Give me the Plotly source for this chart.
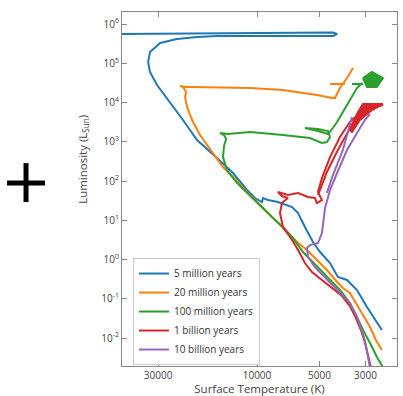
import numpy as np
import plotly.graph_objects as go

# ---- data (log10 of temperature in K and luminosity in L_sun) ----
labels = ["5 million years", "20 million years", "100 million years", "1 billion years", "10 billion years"]
colors = ["#1f77b4", "#ff7f0e", "#2ca02c", "#d62728", "#9467bd"]

blue_logT = [3.398, 3.431, 3.470, 3.518, 3.566, 3.610, 3.648, 3.696, 3.730, 3.769, 3.802, 3.831, 3.899, 3.947,
             3.971, 3.976, 4.010, 4.048, 4.116, 4.193, 4.289, 4.357, 4.419, 4.482, 4.516, 4.525, 4.516, 4.467,
             4.386, 4.289, 4.193, 3.986, 3.793, 3.634, 3.614, 3.634, 3.986, 4.275, 4.651, 4.708]
blue_logL = [-1.796, -1.541, -1.210, -0.777, -0.522, -0.446, -0.089, 0.191, 0.446, 0.828, 1.185, 1.338, 1.465, 1.516,
             1.567, 1.465, 1.567, 1.771, 2.204, 2.586, 3.045, 3.554, 3.987, 4.446, 4.777, 5.032, 5.287, 5.516,
             5.618, 5.669, 5.694, 5.694, 5.694, 5.694, 5.745, 5.783, 5.771, 5.758, 5.745, 5.745]

orange_logT = [3.398, 3.427, 3.455, 3.504, 3.552, 3.586, 3.614, 3.663, 3.711, 3.759, 3.802, 3.851, 3.928, 4.010,
               4.048, 4.116, 4.164, 4.275, 4.313, 4.337, 4.347, 4.342, 4.357, 4.371, 4.342, 4.313, 4.034, 3.875,
               3.711, 3.639, 3.624, 3.600, 3.566, 3.537, None, 3.648, 3.576]
orange_logL = [-2.306, -2.051, -1.720, -1.287, -0.854, -0.726, -0.573, -0.268, -0.013, 0.242, 0.420, 0.675, 1.083, 1.516,
               1.720, 2.102, 2.357, 3.172, 3.554, 3.885, 4.140, 4.268, 4.395, 4.420, 4.395, 4.395, 4.369, 4.318,
               4.191, 4.115, 4.115, 4.369, 4.624, 4.879, None, 4.471, 4.471]

green_logT = [3.393, 3.422, 3.455, 3.489, 3.518, 3.552, 3.600, 3.648, 3.711, 3.778, 3.827, 3.875, 3.928, 4.010,
              4.048, 4.096, 4.145, 4.164, 4.159, 4.149, 4.159, 4.178, 4.140, 4.034, 3.875, 3.745, 3.687, 3.663,
              3.648, 3.658, 3.706, 3.769, 3.706, 3.658, 3.634, 3.614, 3.566, 3.518, 3.494, None, 3.542, 3.489]
green_logL = [-2.739, -2.484, -2.128, -1.796, -1.465, -1.108, -0.777, -0.522, -0.191, 0.191, 0.548, 0.828, 1.083, 1.516,
              1.694, 1.949, 2.280, 2.611, 2.892, 3.070, 3.172, 3.223, 3.197, 3.248, 3.172, 3.095, 2.968, 2.994,
              3.121, 3.274, 3.325, 3.350, 3.274, 3.197, 3.350, 3.503, 3.936, 4.369, 4.497, None, 4.471, 4.471]
green_blob_logT = [3.489, 3.446, 3.393, 3.422, 3.470, 3.489]
green_blob_logL = [4.624, 4.777, 4.624, 4.395, 4.395, 4.624]

red_logT = [3.393, 3.455, 3.504, 3.552, 3.600, 3.648, 3.687, 3.706, 3.687, 3.711, 3.721, 3.754, 3.802, 3.851,
            3.899, 3.880, 3.851, 3.880, 3.889, 3.875, 3.831, 3.802, 3.769, 3.735, 3.687, 3.639, 3.590, 3.552,
            3.523, 3.499, 3.480, 3.465, 3.451, 3.446]
red_logL = [3.936, 3.860, 3.732, 3.503, 3.121, 2.611, 2.076, 1.720, 1.516, 1.439, 1.567, 1.592, 1.694, 1.643,
            1.720, 1.618, 1.567, 1.439, 1.185, 0.828, 0.497, 0.242, -0.089, -0.319, -0.522, -0.726, -0.930, -1.185,
            -1.491, -1.796, -2.102, -2.433, -2.713, -2.866]
red_branch_logT = [3.706, 3.663, 3.610, 3.552, 3.489]
red_branch_logL = [1.643, 2.229, 2.790, 3.350, 3.936]
red_fan_logT = [3.552, 3.513, 3.489, 3.393, 3.446, 3.504, 3.542, 3.552]
red_fan_logL = [3.299, 3.758, 3.962, 3.962, 3.809, 3.554, 3.248, 3.299]

purple_logT = [3.455, 3.480, 3.518, 3.566, 3.614, 3.648, 3.672, 3.687, 3.706, 3.745, 3.759, 3.754, 3.721, 3.648,
               3.600, 3.552, 3.518, 3.499, 3.480, 3.465, 3.455, 3.451]
purple_logL = [3.707, 3.554, 3.223, 2.790, 2.204, 1.771, 1.312, 0.675, 0.420, 0.369, 0.293, 0.064, -0.191, -0.599,
               -0.854, -1.108, -1.465, -1.745, -2.051, -2.484, -2.739, -2.866]
purple_branch_logT = [3.542, 3.586, 3.634, 3.663]
purple_branch_logL = [3.630, 2.790, 2.153, 1.694]

x_tick_vals = [30000, 10000, 5000, 3000]
x_tick_text = ["30000", "10000", "5000", "3000"]
y_tick_exps = [-2, -1, 0, 1, 2, 3, 4, 5, 6]


def lin(a):
    return 10 ** np.array(a, dtype=float)


fig = go.Figure()


def add(lt, ll, i, legend=False, fill=False):
    fig.add_trace(go.Scatter(
        x=lin(lt), y=lin(ll), mode="lines", name=labels[i],
        line=dict(color=colors[i], width=2), legendgroup=str(i), showlegend=legend,
        connectgaps=False, fill="toself" if fill else None,
        fillcolor=colors[i] if fill else None, hoverinfo="skip"))


add(blue_logT, blue_logL, 0, True)
add(orange_logT, orange_logL, 1, True)
add(green_logT, green_logL, 2, True)
add(green_blob_logT, green_blob_logL, 2, fill=True)
add(red_branch_logT, red_branch_logL, 3)
add(red_fan_logT, red_fan_logL, 3, fill=True)
add(red_logT, red_logL, 3, True)
add(purple_branch_logT, purple_branch_logL, 4)
add(purple_logT, purple_logL, 4, True)

for tr in fig.data:
    tr.legendrank = int(tr.legendgroup) + 1

axcol = "#888888"
txtcol = "#444444"
fig.update_xaxes(type="log", range=[4.651, 3.325], tickvals=x_tick_vals, ticktext=x_tick_text,
                 ticks="inside", ticklen=5, tickcolor=axcol, showline=True, linecolor=axcol, linewidth=1,
                 mirror="ticks", showgrid=False, zeroline=False, automargin=False,
                 tickfont=dict(size=10, color=txtcol, family="Open Sans"),
                 title=dict(text="Surface Temperature (K)", font=dict(size=11.5, color=txtcol, family="Open Sans"),
                            standoff=2))
fig.update_yaxes(type="log", range=[-2.713, 6.306], tickvals=[10.0 ** e for e in y_tick_exps],
                 ticktext=["10<sup>%d</sup>" % e for e in y_tick_exps],
                 ticks="inside", ticklen=5, tickcolor=axcol, showline=True, linecolor=axcol, linewidth=1,
                 mirror="ticks", showgrid=False, zeroline=False, automargin=False,
                 tickfont=dict(size=10, color=txtcol, family="Open Sans"))

fig.add_annotation(text="Luminosity (L<sub>Sun</sub>)", textangle=-90, xref="paper", yref="paper",
                   x=-0.142, y=0.585, showarrow=False, xanchor="center", yanchor="middle",
                   font=dict(size=11.5, color=txtcol, family="Open Sans"))

# the big plus sign on the left
fig.add_shape(type="line", xref="paper", yref="paper", x0=-0.418, x1=-0.28, y0=0.517, y1=0.517,
              line=dict(color="black", width=5))
fig.add_shape(type="line", xref="paper", yref="paper", x0=-0.349, x1=-0.349, y0=0.463, y1=0.573,
              line=dict(color="black", width=5))

fig.update_layout(
    width=403, height=396, margin=dict(l=122, r=6, t=12, b=30),
    paper_bgcolor="white", plot_bgcolor="white", showlegend=True,
    legend=dict(x=0.04, y=0.305, xanchor="left", yanchor="top", bgcolor="white",
                bordercolor="#cccccc", borderwidth=1, font=dict(size=10, color="#333333", family="Open Sans"),
                itemwidth=30, tracegroupgap=0),
)

fig.write_html("out.html", config={"displayModeBar": False},
               post_script="document.body.style.margin='0px';document.body.style.overflow='hidden';")
